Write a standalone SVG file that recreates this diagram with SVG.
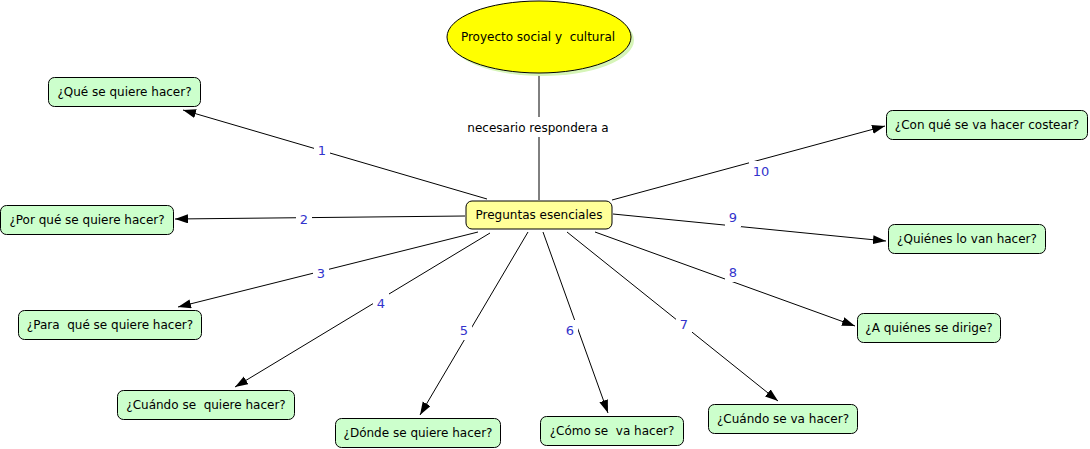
<svg xmlns="http://www.w3.org/2000/svg" width="1090" height="449" viewBox="0 0 1090 449">
<style>
text{font-family:"DejaVu Sans",Verdana,sans-serif;font-size:12px;white-space:pre;fill:#000;}
.leaf rect{fill:#ccffcc;stroke:#000;stroke-width:1;}
.lbl{fill:#3333cc;font-size:13px;}
.con line{stroke:#000;stroke-width:1;}
.bg{fill:#fff;}
</style>
<defs>
<marker id="ah" markerUnits="userSpaceOnUse" markerWidth="14" markerHeight="10" refX="13" refY="4.5" orient="auto">
<path d="M0,0 L13,4.5 L0,9 z" fill="#000"/>
</marker>
</defs>
<rect width="1090" height="449" fill="#fff"/>
<g id="connectors" class="con">
<line x1="539" y1="73" x2="539" y2="200"/>
<line x1="487" y1="199" x2="183" y2="110" marker-end="url(#ah)"/>
<line x1="465" y1="216" x2="175" y2="219" marker-end="url(#ah)"/>
<line x1="478" y1="232" x2="178" y2="307" marker-end="url(#ah)"/>
<line x1="490" y1="233" x2="235" y2="387" marker-end="url(#ah)"/>
<line x1="528" y1="232" x2="420" y2="415" marker-end="url(#ah)"/>
<line x1="543" y1="232" x2="608" y2="413" marker-end="url(#ah)"/>
<line x1="567" y1="232" x2="778" y2="401" marker-end="url(#ah)"/>
<line x1="595" y1="232" x2="855" y2="326" marker-end="url(#ah)"/>
<line x1="613" y1="214" x2="886" y2="241" marker-end="url(#ah)"/>
<line x1="612" y1="200" x2="885" y2="126" marker-end="url(#ah)"/>
<rect class="bg" x="462" y="117" width="152" height="20"/>
<text x="538" y="132" text-anchor="middle">necesario respondera a</text>
<rect class="bg" x="314" y="140" width="16" height="20"/>
<text class="lbl" x="322" y="155" text-anchor="middle">1</text>
<rect class="bg" x="296" y="209" width="16" height="20"/>
<text class="lbl" x="304" y="224" text-anchor="middle">2</text>
<rect class="bg" x="313" y="263" width="16" height="20"/>
<text class="lbl" x="321" y="278" text-anchor="middle">3</text>
<rect class="bg" x="373" y="293" width="16" height="20"/>
<text class="lbl" x="381" y="308" text-anchor="middle">4</text>
<rect class="bg" x="456" y="320" width="16" height="20"/>
<text class="lbl" x="464" y="335" text-anchor="middle">5</text>
<rect class="bg" x="562" y="320" width="16" height="20"/>
<text class="lbl" x="570" y="335" text-anchor="middle">6</text>
<rect class="bg" x="676" y="314" width="16" height="20"/>
<text class="lbl" x="684" y="329" text-anchor="middle">7</text>
<rect class="bg" x="725" y="262" width="16" height="20"/>
<text class="lbl" x="733" y="277" text-anchor="middle">8</text>
<rect class="bg" x="725" y="207" width="16" height="20"/>
<text class="lbl" x="733" y="222" text-anchor="middle">9</text>
<rect class="bg" x="749" y="161" width="24" height="20"/>
<text class="lbl" x="761" y="176" text-anchor="middle">10</text>
</g>
<g id="proyecto">
<ellipse cx="542" cy="40" rx="92" ry="36" fill="#d6f5b8"/>
<ellipse cx="539" cy="37" rx="92" ry="36" fill="#ffff00" stroke="#000" stroke-width="1"/>
<text x="538" y="41" text-anchor="middle">Proyecto social y  cultural</text>
</g>
<g id="preguntas">
<rect x="466" y="201" width="146" height="28" rx="6" fill="#ffff99" stroke="#000"/>
<text x="539" y="219" text-anchor="middle">Preguntas esenciales</text>
</g>
<g id="n1" class="leaf"><rect x="48.5" y="77.5" width="152" height="29" rx="6"/><text x="124.5" y="96" text-anchor="middle">¿Qué se quiere hacer?</text></g>
<g id="n2" class="leaf"><rect x="0.5" y="205.5" width="173" height="29" rx="6"/><text x="87" y="224" text-anchor="middle">¿Por qué se quiere hacer?</text></g>
<g id="n3" class="leaf"><rect x="18.5" y="310.5" width="183" height="29" rx="6"/><text x="110" y="329" text-anchor="middle">¿Para  qué se quiere hacer?</text></g>
<g id="n4" class="leaf"><rect x="117.5" y="390.5" width="177" height="29" rx="6"/><text x="206" y="409" text-anchor="middle">¿Cuándo se  quiere hacer?</text></g>
<g id="n5" class="leaf"><rect x="335.5" y="418.5" width="165" height="29" rx="6"/><text x="418" y="437" text-anchor="middle">¿Dónde se quiere hacer?</text></g>
<g id="n6" class="leaf"><rect x="540.5" y="416.5" width="143" height="29" rx="6"/><text x="612" y="435" text-anchor="middle">¿Cómo se  va hacer?</text></g>
<g id="n7" class="leaf"><rect x="708.5" y="404.5" width="149" height="29" rx="6"/><text x="783" y="423" text-anchor="middle">¿Cuándo se va hacer?</text></g>
<g id="n8" class="leaf"><rect x="857.5" y="313.5" width="143" height="29" rx="6"/><text x="929" y="332" text-anchor="middle">¿A quiénes se dirige?</text></g>
<g id="n9" class="leaf"><rect x="888.5" y="224.5" width="157" height="29" rx="6"/><text x="967" y="243" text-anchor="middle">¿Quiénes lo van hacer?</text></g>
<g id="n10" class="leaf"><rect x="886.5" y="110.5" width="201" height="29" rx="6"/><text x="987" y="129" text-anchor="middle">¿Con qué se va hacer costear?</text></g>
</svg>
